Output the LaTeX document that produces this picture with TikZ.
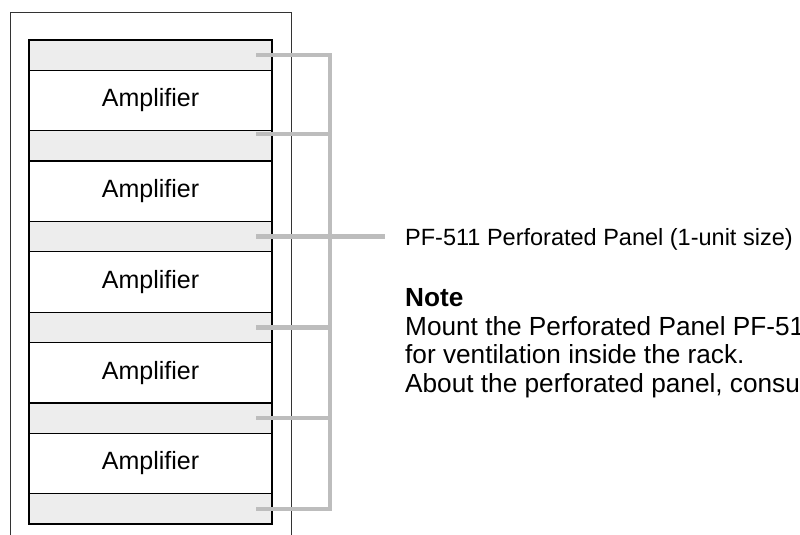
\documentclass[tikz,border=0pt]{standalone}
\usepackage{fontspec}
\setmainfont{Liberation Sans}
\usetikzlibrary{positioning}

\begin{document}
\begin{tikzpicture}[x=1pt, y=-1pt,
    font=\fontsize{23.5}{28.4}\selectfont,
    unit/.style={draw=black, line width=1.2pt, outer sep=0pt, inner sep=0pt,
      minimum width=243pt},
    panel/.style={unit, fill=black!7, minimum height=30.25pt},
    amp/.style={unit, fill=white, minimum height=60.5pt,
      font=\fontsize{25}{30}\selectfont},
    bracket/.style={draw=black!26, line width=4.5pt},
    rack/.style={draw=black!80, line width=1pt}]
  \useasboundingbox (0,0) rectangle (800,535);
  \clip (0,0) rectangle (800,535);

  % rack
  \draw[rack] (10,560) -- (10,13) -- (291,13) -- (291,560);

  % panels and amplifiers
  \node[panel, anchor=north west] (p1) at (29,40) {};
  \node[amp, below=0pt of p1] (a1) {Amplifier};
  \node[panel, below=0pt of a1] (p2) {};
  \node[amp, below=0pt of p2] (a2) {Amplifier};
  \node[panel, below=0pt of a2] (p3) {};
  \node[amp, below=0pt of p3] (a3) {Amplifier};
  \node[panel, below=0pt of a3] (p4) {};
  \node[amp, below=0pt of p4] (a4) {Amplifier};
  \node[panel, below=0pt of a4] (p5) {};
  \node[amp, below=0pt of p5] (a5) {Amplifier};
  \node[panel, below=0pt of a5] (p6) {};

  \coordinate (spine) at (330,0);

  % labels (base of a multi-line node is its last line)
  \node[anchor=base west, inner sep=0pt] (label) at (405,245)
    {PF-511 Perforated Panel (1-unit size)};
  \node[inner sep=0pt, below=147pt of label.base west,
    anchor=base west, align=left, font=\fontsize{26.2}{28.4}\selectfont] (note)
    {\textbf{Note}\\
     Mount the Perforated Panel PF-511\\
     for ventilation inside the rack.\\
     About the perforated panel, consult};

  % bracket
  \draw[bracket] ([xshift=-16pt]p1.east) -| (p6.east -| spine)
    -- ([xshift=-16pt]p6.east);
  \draw[bracket] ([xshift=-16pt, yshift=-3pt]p2.north east)
    -- ([yshift=-3pt]p2.north east -| spine);
  \foreach \i in {3,4,5}
    \draw[bracket] ([xshift=-16pt]p\i.east) -- (p\i.east -| spine);
  \draw[bracket, shorten >=20pt] (p3.east -| spine) -- (p3.east -| label.west);
\end{tikzpicture}
\end{document}
